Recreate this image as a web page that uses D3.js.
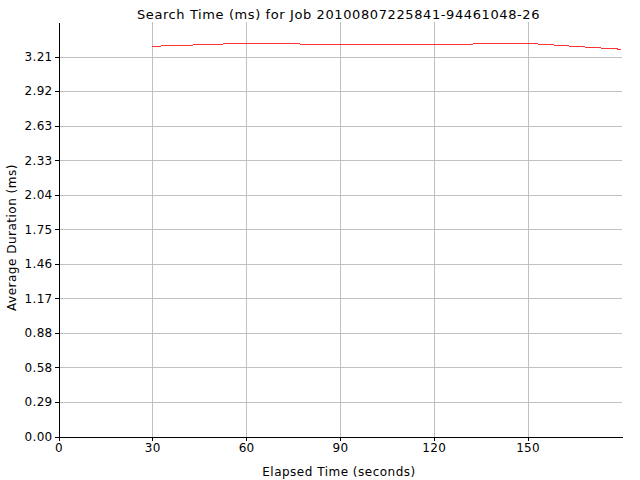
<!DOCTYPE html>
<html>
<head>
<meta charset="utf-8">
<script src="https://cdn.jsdelivr.net/npm/d3@7"></script>
<style>
  html, body { margin: 0; padding: 0; background: #fff; }
  svg text { font-family: "DejaVu Sans", sans-serif; fill: #000; }
</style>
</head>
<body>
<svg id="chart" width="640" height="480"></svg>
<script>
// ---- data ----
const chartTitle = "Search Time (ms) for Job 20100807225841-94461048-26";
const xLabel = "Elapsed Time (seconds)";
const yLabel = "Average Duration (ms)";
const elapsedSeconds = [30, 40, 50, 60, 70, 80, 90, 100, 110, 120, 130, 140, 150, 160, 170, 180];
const avgDurationMs  = [3.295, 3.303, 3.312, 3.320, 3.320, 3.312, 3.312, 3.312, 3.312, 3.312, 3.312, 3.320, 3.320, 3.303, 3.286, 3.270];
const xTickValues = [0, 30, 60, 90, 120, 150];
const yTickLabels = ["0.00", "0.29", "0.58", "0.88", "1.17", "1.46", "1.75", "2.04", "2.33", "2.63", "2.92", "3.21"];
const xDomain = [0, 180.2];
const yDomain = [0, 3.5];

// ---- layout ----
const svg = d3.select("#chart");
const plotL = 58.5, plotR = 622, plotT = 22, plotB = 436.5;

const x = d3.scaleLinear().domain(xDomain).range([plotL, plotR]);
const y = d3.scaleLinear().domain(yDomain).range([plotB, plotT]);
const yStep = yDomain[1] / 12;
const yTickValues = yTickLabels.map((_, i) => i * yStep);

svg.append("rect").attr("width", 640).attr("height", 480).attr("fill", "#fff");

// grid
const grid = svg.append("g").attr("shape-rendering", "crispEdges");
grid.selectAll("line.v").data(xTickValues.filter(v => v > 0)).join("line")
  .attr("x1", d => Math.round(x(d)) + 0.5).attr("x2", d => Math.round(x(d)) + 0.5)
  .attr("y1", plotT).attr("y2", plotB)
  .attr("stroke", "#c0c0c0").attr("stroke-width", 1);
grid.selectAll("line.h").data(yTickValues.filter(v => v > 0)).join("line")
  .attr("y1", d => Math.round(y(d)) + 0.5).attr("y2", d => Math.round(y(d)) + 0.5)
  .attr("x1", plotL).attr("x2", plotR)
  .attr("stroke", "#c0c0c0").attr("stroke-width", 1);

// line
const line = d3.line().x((d, i) => x(elapsedSeconds[i])).y(d => y(d));
svg.append("path").datum(avgDurationMs)
  .attr("d", line)
  .attr("fill", "none")
  .attr("stroke", "#ff3333")
  .attr("stroke-width", 1)
  .attr("shape-rendering", "crispEdges");

// axes
const xAxis = d3.axisBottom(x).tickValues(xTickValues).tickSize(4).tickPadding(3).tickSizeOuter(0)
  .tickFormat(d3.format("d"));
const gx = svg.append("g").attr("transform", `translate(0,${plotB})`).call(xAxis);
const yAxis = d3.axisLeft(y).tickValues(yTickValues).tickSize(4).tickPadding(2).tickSizeOuter(0)
  .tickFormat((d, i) => yTickLabels[i]);
const gy = svg.append("g").attr("transform", `translate(${plotL},0)`).call(yAxis);

[gx, gy].forEach(g => {
  g.attr("shape-rendering", "crispEdges");
  g.selectAll("path.domain").attr("stroke", "#000");
  g.selectAll(".tick line").attr("stroke", "#000");
  g.selectAll("text").attr("font-size", 12).attr("font-family", "DejaVu Sans, sans-serif").style("letter-spacing", "0.3px");
});

// titles
svg.append("text").attr("x", 338.5).attr("y", 18.5).attr("text-anchor", "middle")
  .attr("font-size", 13).style("letter-spacing", "0.6px").text(chartTitle);
svg.append("text").attr("x", 339).attr("y", 476).attr("text-anchor", "middle")
  .attr("font-size", 12).style("letter-spacing", "0.5px").text(xLabel);
svg.append("text").attr("transform", `translate(16,237.5) rotate(-90)`)
  .attr("text-anchor", "middle").attr("font-size", 12).style("letter-spacing", "0.5px").text(yLabel);
</script>
</body>
</html>
